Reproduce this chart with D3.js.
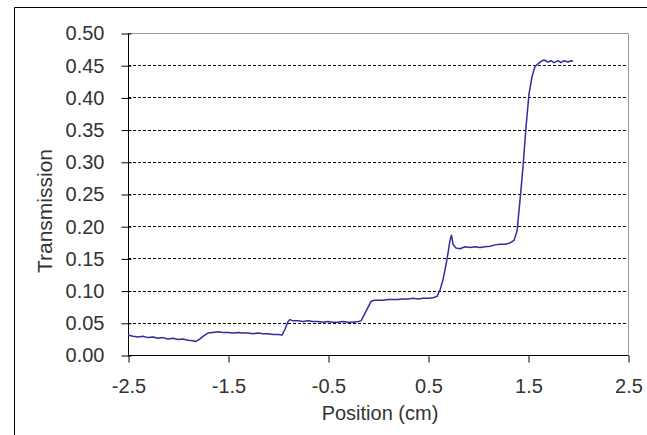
<!DOCTYPE html>
<html>
<head>
<meta charset="utf-8">
<script src="https://cdn.jsdelivr.net/npm/d3@7"></script>
<style>
  body { margin: 0; background: #fff; }
  svg text { font-family: "Liberation Sans", Arial, sans-serif; fill: #333; }
</style>
</head>
<body>
<div id="chart"></div>
<script>
const positions = [
  -2.50, -2.45, -2.40, -2.35, -2.30, -2.25, -2.20, -2.15, -2.10, -2.05,
  -2.00, -1.95, -1.90, -1.85, -1.82, -1.78, -1.74, -1.70, -1.65, -1.60,
  -1.55, -1.50, -1.45, -1.40, -1.35, -1.30, -1.25, -1.20, -1.15, -1.10,
  -1.05, -1.00, -0.96, -0.93, -0.90, -0.88, -0.85, -0.80, -0.75, -0.70,
  -0.65, -0.60, -0.55, -0.50, -0.45, -0.40, -0.35, -0.30, -0.25, -0.20,
  -0.17, -0.14, -0.10, -0.07, -0.04, 0.00, 0.05, 0.10, 0.15, 0.20,
  0.25, 0.30, 0.35, 0.40, 0.45, 0.50, 0.55, 0.59, 0.62, 0.65,
  0.68, 0.70, 0.72, 0.735, 0.75, 0.78, 0.82, 0.87, 0.92, 0.97,
  1.02, 1.07, 1.12, 1.17, 1.22, 1.27, 1.32, 1.36, 1.39, 1.42,
  1.45, 1.48, 1.51, 1.54, 1.57, 1.60, 1.63, 1.66, 1.70, 1.73,
  1.76, 1.80, 1.83, 1.86, 1.90, 1.93, 1.95
];
const transmission = [
  0.031, 0.029, 0.028, 0.029, 0.027, 0.028, 0.026, 0.027, 0.025, 0.026,
  0.024, 0.025, 0.023, 0.022, 0.021, 0.025, 0.030, 0.034, 0.035, 0.036,
  0.035, 0.035, 0.034, 0.035, 0.034, 0.034, 0.033, 0.034, 0.033, 0.033,
  0.032, 0.032, 0.031, 0.040, 0.052, 0.055, 0.053, 0.053, 0.052, 0.053,
  0.052, 0.052, 0.051, 0.052, 0.051, 0.051, 0.052, 0.051, 0.051, 0.052,
  0.053, 0.062, 0.074, 0.083, 0.085, 0.085, 0.085, 0.086, 0.086, 0.086,
  0.087, 0.087, 0.088, 0.087, 0.088, 0.088, 0.089, 0.091, 0.101, 0.117,
  0.140, 0.158, 0.178, 0.186, 0.172, 0.166, 0.165, 0.168, 0.167, 0.168,
  0.167, 0.168, 0.169, 0.171, 0.172, 0.172, 0.174, 0.178, 0.192, 0.240,
  0.292, 0.354, 0.405, 0.432, 0.448, 0.452, 0.456, 0.458, 0.455, 0.457,
  0.454, 0.457, 0.454, 0.457, 0.455, 0.457, 0.456
];
const xTicks = [-2.5, -1.5, -0.5, 0.5, 1.5, 2.5];
const xTickLabels = ["-2.5", "-1.5", "-0.5", "0.5", "1.5", "2.5"];
const yTicks = [0, 0.05, 0.10, 0.15, 0.20, 0.25, 0.30, 0.35, 0.40, 0.45, 0.50];

const width = 647, height = 435;
const margin = {left: 128, right: 19, top: 33, bottom: 80};

const svg = d3.select("#chart").append("svg")
    .attr("width", width)
    .attr("height", height);

// outer chart frame (only left and top edges are visible in the picture)
svg.append("path")
    .attr("d", "M14.5," + height + "V7.5H" + width)
    .attr("fill", "none")
    .attr("stroke", "#000")
    .attr("stroke-width", 1);

const x = d3.scaleLinear().domain([-2.5, 2.5]).range([margin.left, width - margin.right]);
const y = d3.scaleLinear().domain([0, 0.5]).range([height - margin.bottom, margin.top]);

// dashed gridlines
svg.append("g")
    .selectAll("line")
    .data(yTicks.filter(d => d > 0 && d < 0.5))
    .enter().append("line")
    .attr("x1", x(-2.5)).attr("x2", x(2.5))
    .attr("y1", d => Math.round(y(d)) + 0.5)
    .attr("y2", d => Math.round(y(d)) + 0.5)
    .attr("stroke", "#000")
    .attr("stroke-dasharray", "3,2");

// grey plot border on top and right
svg.append("path")
    .attr("d", "M" + x(-2.5) + "," + (Math.round(y(0.5)) + 0.5) + "H" + (Math.round(x(2.5)) + 0.5) + "V" + y(0))
    .attr("fill", "none")
    .attr("stroke", "#999");

// y axis, tick marks cross the axis line
const yAxis = svg.append("g")
    .attr("transform", "translate(" + (Math.round(x(-2.5)) + 0.5) + ",0.5)")
    .call(d3.axisLeft(y).tickValues(yTicks).tickFormat(d3.format(".2f")).tickSize(7).tickPadding(17));
yAxis.selectAll(".tick line").attr("x2", -7).attr("x1", 3);
yAxis.select(".domain").attr("d", "M0," + Math.round(y(0.5)) + "V" + Math.round(y(0)));
yAxis.selectAll("text").style("font-size", "20px").attr("fill", "#333");

// x axis (plain hyphen minus, as in the original labels)
const xAxis = svg.append("g")
    .attr("transform", "translate(0.5," + (Math.round(y(0)) + 0.5) + ")")
    .call(d3.axisBottom(x).tickValues(xTicks).tickFormat((d, i) => xTickLabels[i]).tickSize(7).tickPadding(16));
xAxis.select(".domain").attr("d", "M" + Math.round(x(-2.5)) + ",0H" + Math.round(x(2.5)));
xAxis.selectAll("text").style("font-size", "20px").attr("fill", "#333");

// the transmission trace
const pts = positions.map((p, i) => [p, transmission[i]]);
svg.append("path")
    .datum(pts)
    .attr("fill", "none")
    .attr("stroke", "#2e2e9e")
    .attr("stroke-width", 1.5)
    .attr("stroke-linejoin", "round")
    .attr("d", d3.line().x(d => x(d[0])).y(d => y(d[1])));

// axis titles
svg.append("text")
    .attr("x", 380)
    .attr("y", 420)
    .attr("text-anchor", "middle")
    .style("font-size", "20px")
    .text("Position (cm)");

svg.append("text")
    .attr("transform", "translate(52,211) rotate(-90)")
    .attr("text-anchor", "middle")
    .style("font-size", "21px")
    .text("Transmission");
</script>
</body>
</html>
